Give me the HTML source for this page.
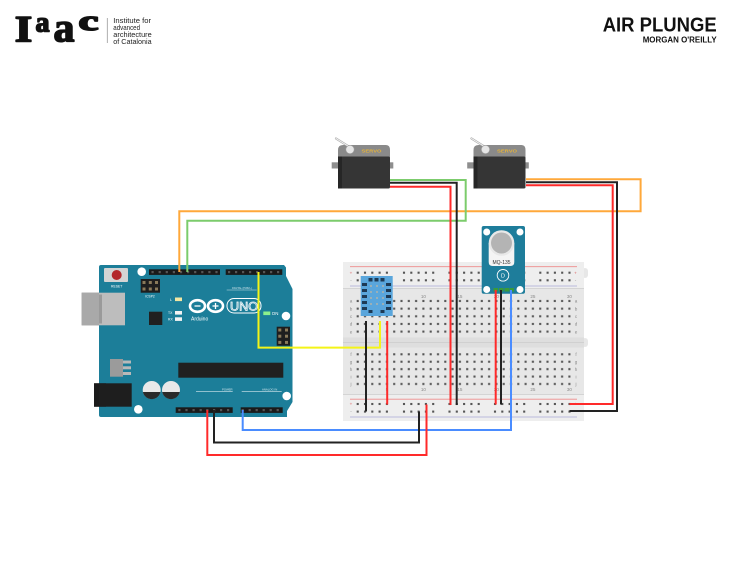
<!DOCTYPE html>
<html><head><meta charset="utf-8"><style>
html,body{margin:0;padding:0;background:#fff;}
svg{display:block;}
text{font-family:"Liberation Sans",sans-serif;}
</style></head><body>
<svg width="730" height="564" viewBox="0 0 730 564" xmlns="http://www.w3.org/2000/svg">
<defs>
  <pattern id="pa" patternUnits="userSpaceOnUse" x="354.05" y="297.2" width="7.3" height="7.65">
    <rect x="2.6" y="2.75" width="2.1" height="2.1" fill="#555"/>
  </pattern>
  <pattern id="pf" patternUnits="userSpaceOnUse" x="354.05" y="350.6" width="7.3" height="7.42">
    <rect x="2.6" y="2.65" width="2.1" height="2.1" fill="#555"/>
  </pattern>
  <g id="pgt">
    <rect x="-1.05" y="-1.05" width="2.1" height="2.1" fill="#555"/>
    <rect x="6.25" y="-1.05" width="2.1" height="2.1" fill="#555"/>
    <rect x="13.55" y="-1.05" width="2.1" height="2.1" fill="#555"/>
    <rect x="20.85" y="-1.05" width="2.1" height="2.1" fill="#555"/>
    <rect x="28.15" y="-1.05" width="2.1" height="2.1" fill="#555"/>
    <rect x="-1.05" y="6.55" width="2.1" height="2.1" fill="#555"/>
    <rect x="6.25" y="6.55" width="2.1" height="2.1" fill="#555"/>
    <rect x="13.55" y="6.55" width="2.1" height="2.1" fill="#555"/>
    <rect x="20.85" y="6.55" width="2.1" height="2.1" fill="#555"/>
    <rect x="28.15" y="6.55" width="2.1" height="2.1" fill="#555"/>
  </g>
  <g id="servo">
    <rect x="331.7" y="162.3" width="61.6" height="6.2" fill="#8e8e8e"/>
    <path d="M338,158 L338,150 Q338,145 343,145 L386,145 Q390,145 390,150 L390,158 Z" fill="#8a8a8a"/>
    <rect x="338" y="156.5" width="52" height="32" rx="1.5" fill="#353535"/>
    <rect x="338" y="156.5" width="4" height="32" fill="#262626"/>
    <line x1="348" y1="146" x2="336" y2="138.5" stroke="#aaa" stroke-width="2.2" stroke-linecap="round"/>
    <line x1="348" y1="146" x2="336" y2="138.5" stroke="#f4f4f4" stroke-width="1" stroke-linecap="round"/>
    <circle cx="350" cy="149.5" r="4.2" fill="#e6e6e6" stroke="#9a9a9a" stroke-width="0.6"/>
    <text x="361.5" y="152.6" font-size="4.6" font-weight="bold" fill="#e3b23c" textLength="20" lengthAdjust="spacingAndGlyphs">SERVO</text>
  </g>
</defs>

<!-- Logo -->
<g fill="#111" stroke="#111" stroke-width="1.6" stroke-linejoin="round" font-weight="bold" style="font-family:'Liberation Serif',serif">
<text x="14.8" y="41.5" font-size="37" textLength="17.5" lengthAdjust="spacingAndGlyphs" style="font-family:'Liberation Serif',serif">I</text>
<text x="35.5" y="31.5" font-size="28" textLength="14" lengthAdjust="spacingAndGlyphs" style="font-family:'Liberation Serif',serif">a</text>
<text x="53.5" y="41.5" font-size="41" textLength="21" lengthAdjust="spacingAndGlyphs" style="font-family:'Liberation Serif',serif">a</text>
<text x="78.5" y="30" font-size="28" textLength="20" lengthAdjust="spacingAndGlyphs" style="font-family:'Liberation Serif',serif">c</text>
</g>
<line x1="107.3" y1="18" x2="107.3" y2="43" stroke="#9a9a9a" stroke-width="0.8"/>
<text x="113.3" y="23" font-size="7.2" fill="#222" textLength="37.7" lengthAdjust="spacingAndGlyphs">Institute for</text>
<text x="113.3" y="29.8" font-size="7.2" fill="#222" textLength="26.7" lengthAdjust="spacingAndGlyphs">advanced</text>
<text x="113.3" y="36.8" font-size="7.2" fill="#222" textLength="38.4" lengthAdjust="spacingAndGlyphs">architecture</text>
<text x="113.3" y="44" font-size="7.2" fill="#222" textLength="38.3" lengthAdjust="spacingAndGlyphs">of Catalonia</text>

<!-- Title -->
<text x="602.7" y="31.7" font-size="20.5" font-weight="bold" fill="#111" textLength="114" lengthAdjust="spacingAndGlyphs">AIR PLUNGE</text>
<text x="642.7" y="42.4" font-size="8.6" font-weight="bold" fill="#111" textLength="74" lengthAdjust="spacingAndGlyphs">MORGAN O'REILLY</text>

<!-- Breadboard -->
<rect x="343" y="262" width="241" height="159" fill="#e7e7e7"/>
<rect x="582" y="268" width="6" height="10" rx="3" fill="#e7e7e7"/>
<rect x="582" y="338" width="6" height="9" rx="3" fill="#e7e7e7"/>
<rect x="343" y="262" width="241" height="26" fill="#eeeeee"/>
<rect x="343" y="395" width="241" height="26" fill="#eeeeee"/>
<line x1="343" y1="288.5" x2="584" y2="288.5" stroke="#d4d4d4" stroke-width="1"/>
<line x1="343" y1="394.5" x2="584" y2="394.5" stroke="#d4d4d4" stroke-width="1"/>
<rect x="343" y="337.5" width="241" height="10" fill="#dedede"/>
<line x1="343" y1="342.5" x2="584" y2="342.5" stroke="#d0d0d0" stroke-width="1"/>
<line x1="350" y1="266.7" x2="577" y2="266.7" stroke="#ee8a8a" stroke-width="0.8"/>
<line x1="350" y1="286" x2="577" y2="286" stroke="#a9a9d6" stroke-width="0.8"/>
<line x1="350" y1="399.2" x2="577" y2="399.2" stroke="#ee8a8a" stroke-width="0.8"/>
<line x1="350" y1="417" x2="577" y2="417" stroke="#a9a9d6" stroke-width="0.8"/>
<rect x="354.05" y="297.2" width="219" height="38.25" fill="url(#pa)"/>
<rect x="354.05" y="350.6" width="219" height="37.1" fill="url(#pf)"/>
<use href="#pgt" x="357.7" y="272.7"/>
<use href="#pgt" x="404" y="272.7"/>
<use href="#pgt" x="449.5" y="272.7"/>
<use href="#pgt" x="495" y="272.7"/>
<use href="#pgt" x="540.3" y="272.7"/>
<use href="#pgt" x="357.7" y="404"/>
<use href="#pgt" x="404" y="404"/>
<use href="#pgt" x="449.5" y="404"/>
<use href="#pgt" x="495" y="404"/>
<use href="#pgt" x="540.3" y="404"/>
<g font-size="4.6" fill="#888" text-anchor="middle">
  <text x="351" y="274.3" fill="#d66">+</text><text x="351" y="282">-</text>
  <text x="575.5" y="274.3" fill="#d66">+</text><text x="575.5" y="282">-</text>
  <text x="351" y="405.6" fill="#d66">+</text><text x="351" y="413">-</text>
  <text x="575.5" y="405.6" fill="#d66">+</text><text x="575.5" y="413">-</text>
  <text x="386.9" y="297.8">5</text><text x="423.4" y="297.8">10</text><text x="459.9" y="297.8">15</text><text x="496.4" y="297.8">20</text><text x="532.9" y="297.8">25</text><text x="569.4" y="297.8">30</text>
  <text x="386.9" y="391">5</text><text x="423.4" y="391">10</text><text x="459.9" y="391">15</text><text x="496.4" y="391">20</text><text x="532.9" y="391">25</text><text x="569.4" y="391">30</text>
  <text x="351" y="302.7">a</text><text x="351" y="310.3">b</text><text x="351" y="318">c</text><text x="351" y="325.6">d</text><text x="351" y="333.3">e</text>
  <text x="576" y="302.7">a</text><text x="576" y="310.3">b</text><text x="576" y="318">c</text><text x="576" y="325.6">d</text><text x="576" y="333.3">e</text>
  <text x="351" y="356">f</text><text x="351" y="363.5">g</text><text x="351" y="371">h</text><text x="351" y="378.4">i</text><text x="351" y="385.7">j</text>
  <text x="576" y="356">f</text><text x="576" y="363.5">g</text><text x="576" y="371">h</text><text x="576" y="378.4">i</text><text x="576" y="385.7">j</text>
</g>

<!-- Arduino -->
<rect x="81.7" y="292.7" width="43.3" height="32.6" fill="#b3b3b3"/>
<rect x="81.7" y="292.7" width="20" height="32.6" fill="#a6a6a6"/>
<rect x="94" y="383.3" width="37.7" height="23.4" fill="#1b1b1b"/>
<path d="M101,265 L284,265 L286,267.5 L286,276 L292.5,289 L292.5,402 L287,411 L287,417 L101,417 Q99,417 99,415 L99,267 Q99,265 101,265 Z" fill="#1c7e99"/>
<rect x="94" y="383.3" width="12" height="23.4" fill="#1b1b1b"/>
<rect x="81.7" y="292.7" width="17.3" height="32.6" fill="#a9a9a9"/>
<rect x="99" y="292.7" width="26" height="32.6" fill="#bdbdbd"/>
<rect x="99" y="294.5" width="3" height="29" fill="#9a9a9a"/>
<rect x="99" y="383.3" width="32.7" height="23.4" fill="#1e1e1e"/>
<circle cx="141.7" cy="271.7" r="4.3" fill="#fff"/>
<circle cx="286" cy="316" r="4.3" fill="#fff"/>
<circle cx="138.3" cy="409.3" r="4.3" fill="#fff"/>
<circle cx="286.7" cy="396" r="4.3" fill="#fff"/>
<rect x="104" y="268" width="24" height="14" rx="1" fill="#d4d4d4"/>
<circle cx="116.7" cy="275" r="5" fill="#b3262a"/>
<text x="116.7" y="287.5" font-size="3.4" fill="#fff" text-anchor="middle">RESET</text>
<rect x="140.7" y="279" width="19.3" height="13.7" fill="#1e1e1e"/>
<g fill="#8a7a5a">
<rect x="142.5" y="281" width="3" height="3"/><rect x="148.8" y="281" width="3" height="3"/><rect x="155" y="281" width="3" height="3"/>
<rect x="142.5" y="287.5" width="3" height="3"/><rect x="148.8" y="287.5" width="3" height="3"/><rect x="155" y="287.5" width="3" height="3"/>
</g>
<text x="150" y="297.5" font-size="3.3" fill="#fff" text-anchor="middle">ICSP2</text>
<!-- top headers -->
<rect x="149" y="269.3" width="71" height="5.6" fill="#1a1a1a"/>
<rect x="225.7" y="269.3" width="56.6" height="5.6" fill="#1a1a1a"/>
<g fill="#555">
<rect x="151.5" y="271" width="2.2" height="2.2"/><rect x="158.6" y="271" width="2.2" height="2.2"/><rect x="165.7" y="271" width="2.2" height="2.2"/><rect x="172.8" y="271" width="2.2" height="2.2"/><rect x="179.9" y="271" width="2.2" height="2.2"/><rect x="187" y="271" width="2.2" height="2.2"/><rect x="194.1" y="271" width="2.2" height="2.2"/><rect x="201.2" y="271" width="2.2" height="2.2"/><rect x="208.3" y="271" width="2.2" height="2.2"/><rect x="215.4" y="271" width="2.2" height="2.2"/>
<rect x="228" y="271" width="2.2" height="2.2"/><rect x="235" y="271" width="2.2" height="2.2"/><rect x="242" y="271" width="2.2" height="2.2"/><rect x="249" y="271" width="2.2" height="2.2"/><rect x="256" y="271" width="2.2" height="2.2"/><rect x="263" y="271" width="2.2" height="2.2"/><rect x="270" y="271" width="2.2" height="2.2"/><rect x="277" y="271" width="2.2" height="2.2"/>
</g>
<line x1="226.7" y1="290" x2="256.7" y2="290" stroke="#cfe3ea" stroke-width="0.5"/>
<text x="232" y="289.2" font-size="2.6" fill="#cfe3ea">DIGITAL (PWM~)</text>
<!-- LEDs -->
<rect x="175" y="297.5" width="7" height="3.6" fill="#f2e6a2"/>
<text x="171" y="300.8" font-size="3.6" fill="#fff" text-anchor="middle">L</text>
<rect x="175" y="311" width="7" height="3.6" fill="#f3f3f3"/>
<rect x="175" y="317.3" width="7" height="3.6" fill="#f3f3f3"/>
<text x="168" y="314.2" font-size="3.4" fill="#fff">TX</text>
<text x="168" y="320.5" font-size="3.4" fill="#fff">RX</text>
<rect x="149" y="311.7" width="13.3" height="13.3" fill="#202020"/>
<!-- Arduino logo -->
<ellipse cx="197.5" cy="306" rx="7.5" ry="5.8" fill="none" stroke="#fff" stroke-width="2.6"/>
<ellipse cx="215.5" cy="306" rx="7.5" ry="5.8" fill="none" stroke="#fff" stroke-width="2.6"/>
<line x1="194.5" y1="306" x2="200.5" y2="306" stroke="#fff" stroke-width="1.3"/>
<line x1="212.5" y1="306" x2="218.5" y2="306" stroke="#fff" stroke-width="1.3"/>
<line x1="215.5" y1="303" x2="215.5" y2="309" stroke="#fff" stroke-width="1.3"/>
<rect x="227" y="298.5" width="34" height="14.5" rx="7" fill="none" stroke="#fff" stroke-width="1"/>
<text x="244" y="310.5" font-size="11.5" fill="#1c7e99" stroke="#fff" stroke-width="0.7" text-anchor="middle" textLength="28" lengthAdjust="spacingAndGlyphs">UNO</text>
<text x="191" y="320.5" font-size="5" fill="#fff">Arduino</text>
<rect x="263.3" y="311.5" width="7" height="3.6" fill="#8cf08c"/>
<text x="271.8" y="315.2" font-size="4.4" fill="#fff">ON</text>
<rect x="276.7" y="326.7" width="13.3" height="19" fill="#1e1e1e"/>
<g fill="#8a7a5a">
<rect x="278.3" y="328.5" width="3" height="3"/><rect x="285" y="328.5" width="3" height="3"/>
<rect x="278.3" y="334.7" width="3" height="3"/><rect x="285" y="334.7" width="3" height="3"/>
<rect x="278.3" y="340.9" width="3" height="3"/><rect x="285" y="340.9" width="3" height="3"/>
</g>
<!-- regulator -->
<rect x="110" y="359" width="13" height="17.7" fill="#9b9b9b"/>
<rect x="123" y="360.5" width="8" height="3" fill="#b9b9b9"/>
<rect x="123" y="366.3" width="8" height="3" fill="#b9b9b9"/>
<rect x="123" y="372" width="8" height="3" fill="#b9b9b9"/>
<!-- capacitors -->
<circle cx="151.7" cy="390" r="9" fill="#e9e9e9"/>
<path d="M142.9,392 A9,9 0 0 0 160.5,392 Z" fill="#2a2a2a"/>
<circle cx="171" cy="390" r="9" fill="#e9e9e9"/>
<path d="M162.2,392 A9,9 0 0 0 179.8,392 Z" fill="#2a2a2a"/>
<rect x="178.3" y="362.7" width="105" height="15" fill="#202020"/>
<line x1="196" y1="391.7" x2="232.7" y2="391.7" stroke="#d6e8ee" stroke-width="0.6"/>
<line x1="241.7" y1="391.7" x2="281.7" y2="391.7" stroke="#d6e8ee" stroke-width="0.6"/>
<text x="222" y="390.6" font-size="2.8" fill="#d6e8ee">POWER</text>
<text x="262" y="390.6" font-size="2.8" fill="#d6e8ee">ANALOG IN</text>
<rect x="175.7" y="407.3" width="57" height="5.6" fill="#1a1a1a"/>
<rect x="240.7" y="407.3" width="42" height="5.6" fill="#1a1a1a"/>
<g fill="#555">
<rect x="178.3" y="409" width="2.2" height="2.2"/><rect x="185.4" y="409" width="2.2" height="2.2"/><rect x="192.5" y="409" width="2.2" height="2.2"/><rect x="199.6" y="409" width="2.2" height="2.2"/><rect x="206.2" y="409" width="2.2" height="2.2"/><rect x="213" y="409" width="2.2" height="2.2"/><rect x="220" y="409" width="2.2" height="2.2"/><rect x="227" y="409" width="2.2" height="2.2"/>
<rect x="241.6" y="409" width="2.2" height="2.2"/><rect x="248.6" y="409" width="2.2" height="2.2"/><rect x="255.6" y="409" width="2.2" height="2.2"/><rect x="262.6" y="409" width="2.2" height="2.2"/><rect x="269.6" y="409" width="2.2" height="2.2"/><rect x="276.6" y="409" width="2.2" height="2.2"/>
</g>

<!-- DHT sensor -->
<rect x="360.7" y="276" width="32" height="40" fill="#5aa6dc"/>
<g fill="#1d3a55">
<rect x="368.5" y="278" width="4" height="3.5"/><rect x="374.5" y="278" width="4" height="3.5"/><rect x="380.5" y="278" width="4" height="3.5"/>
<rect x="362" y="283" width="5" height="3"/><rect x="362" y="289" width="5" height="3"/><rect x="362" y="295" width="5" height="3"/><rect x="362" y="301" width="5" height="3"/><rect x="362" y="307" width="5" height="3"/>
<rect x="386" y="283" width="5" height="3"/><rect x="386" y="289" width="5" height="3"/><rect x="386" y="295" width="5" height="3"/><rect x="386" y="301" width="5" height="3"/><rect x="386" y="307" width="5" height="3"/>
<rect x="368.5" y="310" width="4" height="3"/><rect x="380.5" y="310" width="4" height="3"/>
</g>
<g fill="#9ab0b8">
<rect x="370" y="285" width="2" height="2"/><rect x="376" y="285" width="2" height="2"/><rect x="382" y="285" width="2" height="2"/>
<rect x="370" y="291" width="2" height="2"/><rect x="376" y="291" width="2" height="2"/><rect x="382" y="291" width="2" height="2"/>
<rect x="370" y="297" width="2" height="2"/><rect x="376" y="297" width="2" height="2"/><rect x="382" y="297" width="2" height="2"/>
<rect x="370" y="303" width="2" height="2"/><rect x="376" y="303" width="2" height="2"/><rect x="382" y="303" width="2" height="2"/>
</g>

<!-- MQ-135 -->
<rect x="481.7" y="226" width="43.3" height="67.7" rx="2" fill="#1e7d9b"/>
<circle cx="486.7" cy="232" r="3.5" fill="#fff"/>
<circle cx="520" cy="232" r="3.5" fill="#fff"/>
<circle cx="486.7" cy="289.5" r="3.5" fill="#fff"/>
<circle cx="520" cy="289.5" r="3.5" fill="#fff"/>
<path d="M488.7,243 L514.3,243 L514.3,262 Q514.3,266 510.3,266 L492.7,266 Q488.7,266 488.7,262 Z" fill="#f4f4f4"/>
<circle cx="501.5" cy="243" r="12.8" fill="#e8e8e8"/>
<circle cx="501.5" cy="243" r="10.5" fill="#b4b4b4"/>
<text x="501.5" y="264" font-size="5" fill="#333" text-anchor="middle">MQ-135</text>
<circle cx="503" cy="275.3" r="5.8" fill="none" stroke="#fff" stroke-width="0.9"/>
<text x="503" y="277.3" font-size="5.5" fill="#fff" text-anchor="middle">D</text>
<g fill="#3a9a3a">
<rect x="493.5" y="288" width="4.5" height="3.5"/><rect x="499" y="288" width="4.5" height="3.5"/><rect x="504.5" y="288" width="4.5" height="3.5"/><rect x="509.5" y="288" width="4.5" height="3.5"/>
</g>

<!-- Servos -->
<use href="#servo"/>
<use href="#servo" transform="translate(135.5,0)"/>

<!-- Wires -->
<g fill="none" stroke-width="2" stroke-linejoin="miter">
<polyline points="179.3,272 179.3,211.2 640.6,211.2 640.6,179.3 526,179.3" stroke="#ffa83a"/>
<polyline points="187.3,272 187.3,220.8 465.7,220.8 465.7,180 390,180" stroke="#7ccc6c"/>
<polyline points="390,182.8 456.7,182.8 456.7,405" stroke="#222"/>
<polyline points="390,186.7 450.5,186.7 450.5,405" stroke="#ff2a2a"/>
<polyline points="526,182.2 617,182.2 617,411 569.5,411" stroke="#222"/>
<polyline points="526,185.2 612.7,185.2 612.7,404 569.5,404" stroke="#ff2a2a"/>
<polyline points="258.5,272 258.5,347.6 380,347.6 380,321" stroke="#f4f418"/>
<polyline points="366,321 366,411.5" stroke="#222"/>
<polyline points="387.2,321 387.2,404.5" stroke="#ff2a2a"/>
<polyline points="495.7,290 495.7,404.5" stroke="#ff2a2a"/>
<polyline points="501,290 501,404.5" stroke="#222"/>
<polyline points="511,290 511,430 242.7,430 242.7,410" stroke="#4a8cff"/>
<polyline points="207.3,410 207.3,455 426.5,455 426.5,404.5" stroke="#ff2a2a"/>
<polyline points="214,410 214,442.5 419,442.5 419,411.5" stroke="#222"/>
</g>
</svg>
</body></html>
